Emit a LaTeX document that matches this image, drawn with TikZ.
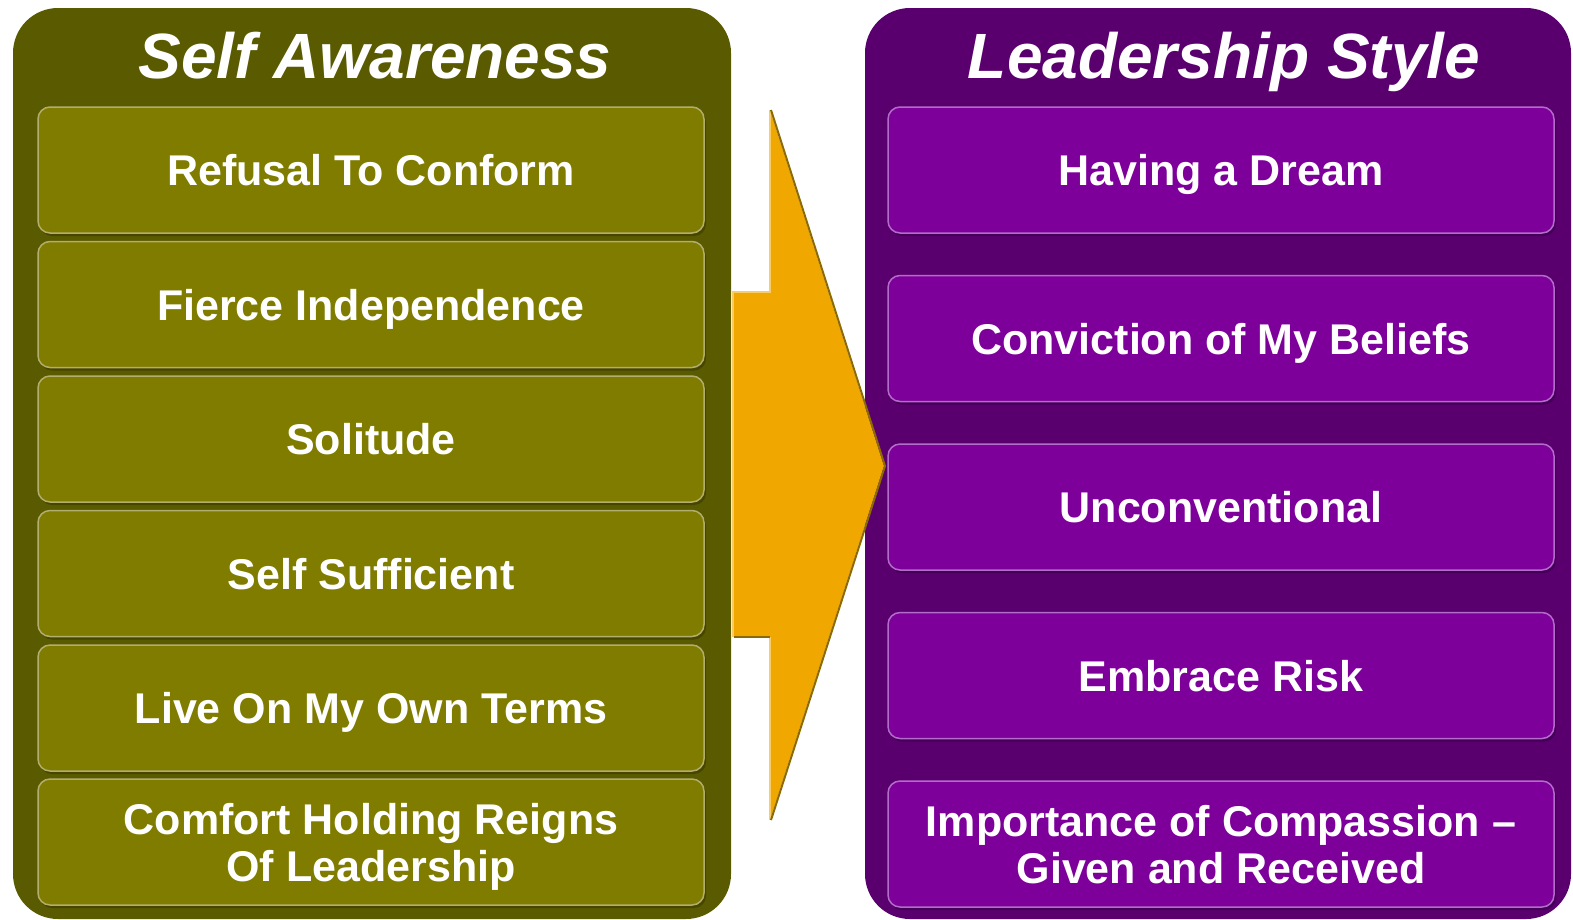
\documentclass[tikz,border=0pt]{standalone}
\usepackage{fontspec}
\setmainfont{Liberation Sans}
\usetikzlibrary{shadows}

\definecolor{olivepanel}{HTML}{5A5A00}
\definecolor{olivebox}{HTML}{807C00}
\definecolor{oliveedge}{HTML}{B2AE6E}
\definecolor{oliveshade}{HTML}{464600}
\definecolor{purplepanel}{HTML}{5A006E}
\definecolor{purplebox}{HTML}{7E009A}
\definecolor{purpleedge}{HTML}{B46CCA}
\definecolor{purpleshade}{HTML}{440058}
\definecolor{arrowfill}{HTML}{F0A800}
\definecolor{arrowdark}{HTML}{8C6A00}
\definecolor{arrowlight}{HTML}{F8CC66}

\tikzset{
  panel/.style={rectangle, rounded corners=45pt, inner sep=0pt},
  title/.style={text=white, anchor=base, font=\fontsize{64}{68}\selectfont\bfseries\itshape},
  item/.style={rectangle, rounded corners=12pt, minimum width=666pt, minimum height=126pt,
    line width=1.5pt, text=white, align=center, text depth=0pt,
    font=\fontsize{43}{47}\selectfont\bfseries}
}

\begin{document}
\begin{tikzpicture}[x=1pt,y=-1pt]
      \useasboundingbox (0,0) rectangle (1573,919);

      % the two panels
      \node[panel, fill=olivepanel, minimum width=718pt, minimum height=911pt] (left) at (372,463.5) {};
      \node[panel, fill=purplepanel, minimum width=706pt, minimum height=911pt] (right) at (1218,463.5) {};
      \node[title] (lefttitle) at (375,78) {Self Awareness};
      \node[title] (righttitle) at (1224,78) {Leadership Style};

      % the arrow between them
      \fill[arrowfill] (733,292) -- (770,292) -- (770,110) -- (884,466)
        -- (770,820) -- (770,637) -- (733,637) -- cycle;
      \draw[arrowlight, line width=2pt] (733,637) -- (733,292) -- (770,292) -- (770,110);
      \draw[arrowlight, line width=2pt] (770,637) -- (770,820);
      \draw[arrowdark, line width=2pt, line join=miter] (771,110) -- (885,466) -- (771,820);
      \draw[arrowdark, line width=2pt] (734,637) -- (770,637);

      \begin{scope}[every node/.style={item, fill=olivebox, draw=oliveedge,
          drop shadow={shadow xshift=2pt, shadow yshift=-3pt, opacity=1, fill=oliveshade}}]
        \node (l1) at (371,170)   {Refusal To Conform};
        \node (l2) at (371,304.5) {Fierce Independence};
        \node (l3) at (371,439)   {Solitude};
        \node (l4) at (371,573.5) {Self Sufficient};
        \node (l5) at (371,708)   {Live On My Own Terms};
        \node (l6) at (371,842)   {Comfort Holding Reigns\\Of Leadership};
      \end{scope}

      \begin{scope}[every node/.style={item, fill=purplebox, draw=purpleedge,
          drop shadow={shadow xshift=2pt, shadow yshift=-3pt, opacity=1, fill=purpleshade}}]
        \node (r1) at (1221,170)   {Having a Dream};
        \node (r2) at (1221,338.5) {Conviction of My Beliefs};
        \node (r3) at (1221,507)   {Unconventional};
        \node (r4) at (1221,675.5) {Embrace Risk};
        \node (r5) at (1221,844)   {Importance of Compassion --\\Given and Received};
      \end{scope}

    \end{tikzpicture}
\end{document}
